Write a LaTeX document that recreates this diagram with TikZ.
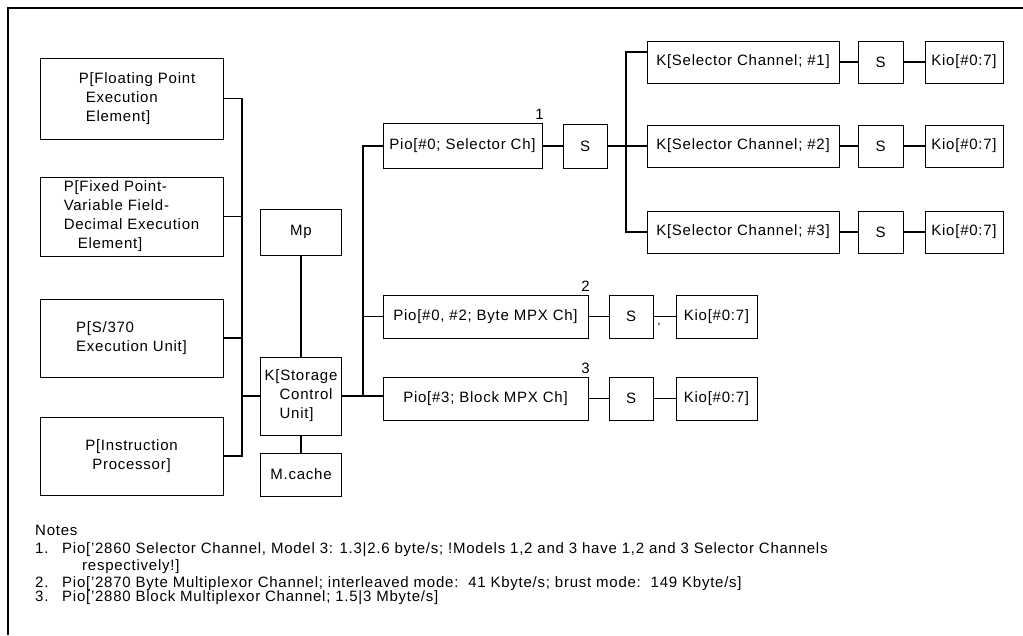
\documentclass[tikz,border=0pt]{standalone}
\usepackage{fontspec}
\setmainfont[LetterSpace=5]{Liberation Sans}
\newcommand\boxfont{\fontsize{15}{19}\selectfont}
\newcommand\notefont{\fontsize{15}{17}\selectfont}
\begin{document}
\begin{tikzpicture}[x=1pt,y=-1pt,
  box/.style={draw, line width=1pt, inner sep=0pt, align=center, font=\boxfont},
  lbox/.style={box, align=left},
  conn/.style={line width=1.8pt},
  frame/.style={line width=1.1pt},
  numlbl/.style={font=\boxfont, inner sep=0pt, anchor=south},
  note/.style={font=\notefont, inner sep=0pt, anchor=base west}]
\useasboundingbox (0,0) rectangle (1023,635);

% page frame (top and left rules)
\draw[frame] (8,635) -- (8,8) -- (1023,8);

% processors
\node[lbox, minimum width=183, minimum height=81] (fp) at (131.5,98.5)
  {\hspace*{11pt}P[Floating Point\\\hspace*{18pt}Execution\\\hspace*{18pt}Element]};
\node[lbox, minimum width=183, minimum height=79] (fx) at (131.5,216.5)
  {P[Fixed Point-\\Variable Field-\\Decimal Execution\\\hspace*{14pt}Element]};
\node[lbox, minimum width=183, minimum height=78] (s370) at (131.5,338)
  {P[S/370\\Execution Unit]};
\node[box, minimum width=183, minimum height=78] (ip) at (131.5,456)
  {P[Instruction\\Processor]};

% memory and storage control
\node[box, minimum width=81, minimum height=46] (mp) at (301,232) {Mp};
\node[lbox, minimum width=81, minimum height=78] (ks) at (301,396)
  {K[Storage\\\hspace*{15pt}Control\\\hspace*{15pt}Unit]};
\node[box, minimum width=81, minimum height=43] (mc) at (301,474.5) {M.cache};

% I/O processors
\node[box, minimum width=159, minimum height=45] (psel) at (462.5,146) {Pio[\#0; Selector Ch]};
\node[box, minimum width=44, minimum height=44] (s1) at (585,146) {S};
\node[box, minimum width=205, minimum height=43] (pbyte) at (485.5,316.5) {Pio[\#0, \#2; Byte MPX Ch]};
\node[box, minimum width=44, minimum height=43] (sbyte) at (631,316.5) {S};
\node[box, minimum width=81, minimum height=43] (kiobyte) at (716.5,316.5) {Kio[\#0:7]};
\node[box, minimum width=205, minimum height=43] (pblk) at (485.5,398.5) {Pio[\#3; Block MPX Ch]};
\node[box, minimum width=44, minimum height=43] (sblk) at (631,398.5) {S};
\node[box, minimum width=81, minimum height=43] (kioblk) at (716.5,398.5) {Kio[\#0:7]};

\node[numlbl] (n1) at ([xshift=-3pt,yshift=3pt]psel.north east) {1};
\node[numlbl] (n2) at ([xshift=-3pt,yshift=3pt]pbyte.north east) {2};
\node[numlbl] (n3) at ([xshift=-3pt,yshift=3pt]pblk.north east) {3};

% selector channels
\node[box, minimum width=192, minimum height=42] (ksel1) at (743,62) {K[Selector Channel; \#1]};
\node[box, minimum width=45, minimum height=42] (ssel1) at (880.5,62) {S};
\node[box, minimum width=78, minimum height=42] (kio1) at (964,62) {Kio[\#0:7]};
\node[box, minimum width=192, minimum height=42] (ksel2) at (743,146) {K[Selector Channel; \#2]};
\node[box, minimum width=45, minimum height=42] (ssel2) at (880.5,146) {S};
\node[box, minimum width=78, minimum height=42] (kio2) at (964,146) {Kio[\#0:7]};
\node[box, minimum width=192, minimum height=42] (ksel3) at (743,232) {K[Selector Channel; \#3]};
\node[box, minimum width=45, minimum height=42] (ssel3) at (880.5,232) {S};
\node[box, minimum width=78, minimum height=42] (kio3) at (964,232) {Kio[\#0:7]};

% processor bus
\coordinate (busx) at (242,0);
\draw[conn] (fp.east) -- (fp.east -| busx) -- (ip.east -| busx) -- (ip.east);
\draw[conn] (fx.east) -- (fx.east -| busx);
\draw[conn] (s370.east) -- (s370.east -| busx);
\draw[conn] (ks.west -| busx) -- (ks.west);
\draw[conn] (mp.south) -- (ks.north);
\draw[conn] (ks.south) -- (mc.north);

% I/O trunk
\coordinate (trx) at (363,0);
\draw[conn] (ks.east) -- (ks.east -| pblk.west);
\draw[conn] (psel.west) -| (trx |- ks.east);
\draw[conn] (pbyte.west) -- (pbyte.west -| trx);
\draw[conn] (psel.east) -- (s1.west);

% selector channel fan-out
\coordinate (tr2x) at (626,0);
\draw[conn] (s1.east) -- (ksel2.west);
\draw[conn] ([yshift=10pt]ksel1.west) -| (tr2x |- ksel3.west) -- (ksel3.west);
\draw[conn] (ksel1.east) -- (ssel1.west);
\draw[conn] (ssel1.east) -- (kio1.west);
\draw[conn] (ksel2.east) -- (ssel2.west);
\draw[conn] (ssel2.east) -- (kio2.west);
\draw[conn] (ksel3.east) -- (ssel3.west);
\draw[conn] (ssel3.east) -- (kio3.west);

% multiplexor channels
\draw[conn] (pbyte.east) -- (sbyte.west);
\draw[conn] (sbyte.east) -- (kiobyte.west);
\node[font=\fontsize{12}{12}\selectfont, inner sep=0pt] (tick) at (659,325) {,};
\draw[conn] (pblk.east) -- (sblk.west);
\draw[conn] (sblk.east) -- (kioblk.west);

% notes
\node[note] (notes) at (35,535) {Notes};
\node[note] (k1) at (35,553) {1.};
\node[note] (t1) at (62,553) {Pio['2860 Selector Channel, Model 3: 1.3|2.6 byte/s; !Models 1,2 and 3 have 1,2 and 3 Selector Channels};
\node[note] (t1b) at (82,570) {respectively!]};
\node[note] (k2) at (35,587) {2.};
\node[note] (t2) at (62,587) {Pio['2870 Byte Multiplexor Channel; interleaved mode:\ \ 41 Kbyte/s; brust mode:\ \ 149 Kbyte/s]};
\node[note] (k3) at (35,601) {3.};
\node[note] (t3) at (62,601) {Pio['2880 Block Multiplexor Channel; 1.5|3 Mbyte/s]};
\end{tikzpicture}
\end{document}
